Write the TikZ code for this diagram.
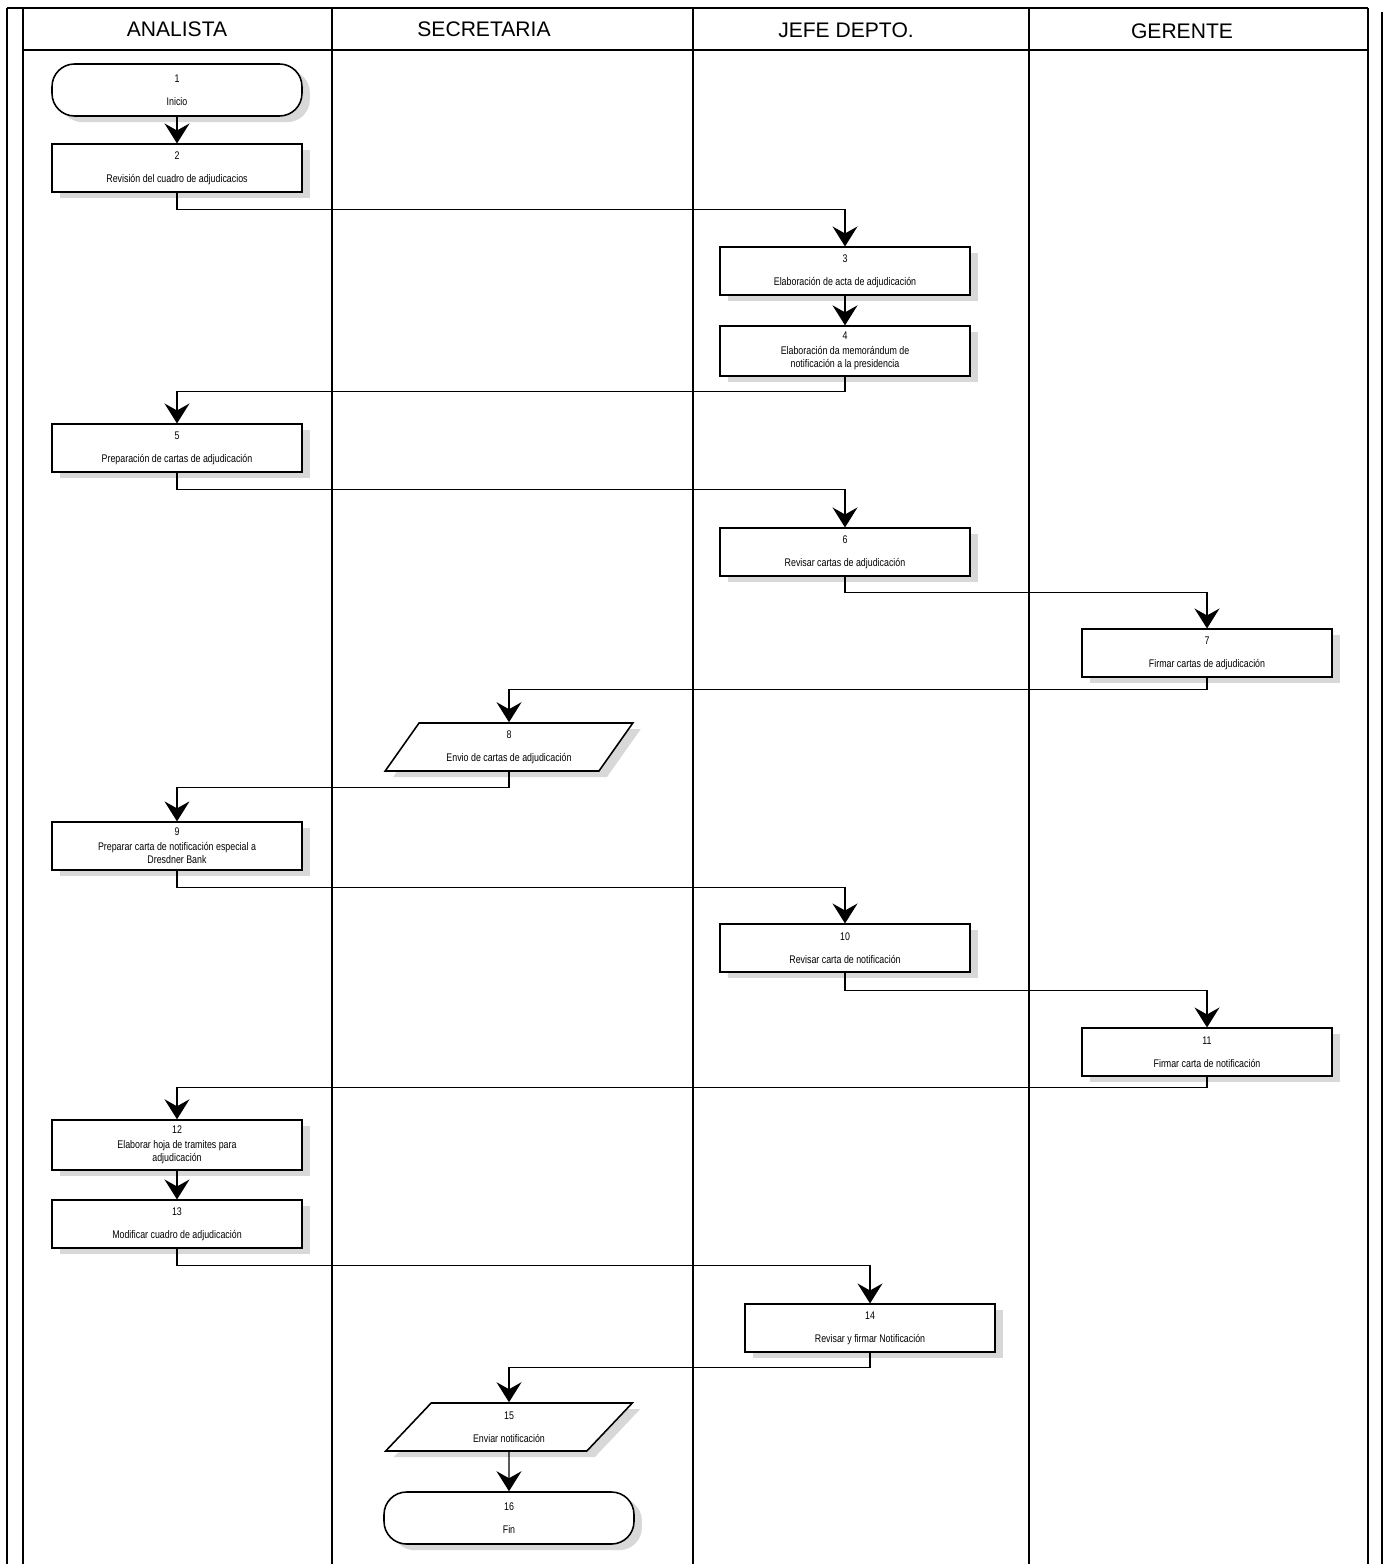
\documentclass[tikz,border=0pt]{standalone}
\usepackage{fontspec}
\setmainfont{Liberation Sans}
\newfontfamily\narrowfont[FakeStretch=0.8]{Liberation Sans}
\usetikzlibrary{arrows.meta,shapes.geometric,shadows}

\begin{document}
\begin{tikzpicture}[x=0.02cm,y=-0.02cm,>={Stealth[length=0.4cm,width=0.5cm,inset=0.14cm]}]
  \tikzstyle{lane}=[line width=1.2pt]
  \tikzstyle{head}=[font=\fontsize{12}{14}\selectfont]
  \tikzstyle{block}=[draw,line width=0.9pt,fill=white,align=center,minimum width=5cm,minimum height=0.95cm,font=\narrowfont\fontsize{6.3}{7.5}\selectfont,drop shadow={shadow xshift=4.5pt,shadow yshift=-3.5pt,fill=gray!60}]
  \tikzstyle{term}=[block,rounded corners=0.45cm,minimum height=1.04cm]
  \tikzstyle{io}=[block,trapezium,trapezium left angle=60,trapezium right angle=120,trapezium stretches=true,minimum width=4.96cm,minimum height=0.96cm]
  \tikzstyle{flow}=[->,line width=0.7pt]
  \useasboundingbox (0,0) rectangle (1387,1564);
  % lanes
  \draw[lane] (7,8) -- (1368,8);
  \draw[lane] (7,8) -- (7,1564);
  \draw[lane] (23,8) -- (23,1564);
  \draw[lane] (23,50) -- (1368,50);
  \foreach \x in {332,693,1029,1368}
    \draw[lane] (\x,8) -- (\x,1564);
  \draw[lane] (1382,12) -- (1382,1564);
  \node[head] (hanal) at (177,29) {ANALISTA};
  \node[head] (hsecr) at (484,29) {SECRETARIA};
  \node[head] (hjefe) at (846,30) {JEFE DEPTO.};
  \node[head] (hgere) at (1182,31) {GERENTE};
  % steps
  \node[term] (n1) at (177,90) {1\\[5.5pt]Inicio};
  \node[block] (n2) at (177,168) {2\\[5.5pt]Revisión del cuadro de adjudicacios};
  \node[block] (n3) at (845,271) {3\\[5.5pt]Elaboración de acta de adjudicación};
  \node[block] (n4) at (845,351) {4\\[1pt]Elaboración da memorándum de\\notificación a la presidencia};
  \node[block] (n5) at (177,448) {5\\[5.5pt]Preparación de cartas de adjudicación};
  \node[block] (n6) at (845,552) {6\\[5.5pt]Revisar cartas de adjudicación};
  \node[block] (n7) at (1207,653) {7\\[5.5pt]Firmar cartas de adjudicación};
  \node[io] (n8) at (509,747) {8\\[5.5pt]Envio de cartas de adjudicación};
  \node[block] (n9) at (177,846) {9\\[1pt]Preparar carta de notificación especial a\\Dresdner Bank};
  \node[block] (n10) at (845,948) {10\\[5.5pt]Revisar carta de notificación};
  \node[block] (n11) at (1207,1052) {11\\[5.5pt]Firmar carta de notificación};
  \node[block] (n12) at (177,1145) {12\\[1pt]Elaborar hoja de tramites para\\adjudicación};
  \node[block] (n13) at (177,1224) {13\\[5.5pt]Modificar cuadro de adjudicación};
  \node[block] (n14) at (870,1328) {14\\[5.5pt]Revisar y firmar Notificación};
  \node[io] (n15) at (509,1427) {15\\[5.5pt]Enviar notificación};
  \node[term] (n16) at (509,1518) {16\\[5.5pt]Fin};
  % connectors
  \draw[flow] (n1) -- (n2);
  \draw[flow] (n2.south) -- ++(0,17) -| (n3.north);
  \draw[flow] (n3) -- (n4);
  \draw[flow] (n4.south) -- ++(0,15) -| (n5.north);
  \draw[flow] (n5.south) -- ++(0,17) -| (n6.north);
  \draw[flow] (n6.south) -- ++(0,16) -| (n7.north);
  \draw[flow] (n7.south) -- ++(0,12) -| (n8.north);
  \draw[flow] (n8.south) -- ++(0,16) -| (n9.north);
  \draw[flow] (n9.south) -- ++(0,17) -| (n10.north);
  \draw[flow] (n10.south) -- ++(0,18) -| (n11.north);
  \draw[flow] (n11.south) -- ++(0,11) -| (n12.north);
  \draw[flow] (n12) -- (n13);
  \draw[flow] (n13.south) -- ++(0,17) -| (n14.north);
  \draw[flow] (n14.south) -- ++(0,15) -| (n15.north);
  \draw[flow] (n15) -- (n16);
\end{tikzpicture}
\end{document}
